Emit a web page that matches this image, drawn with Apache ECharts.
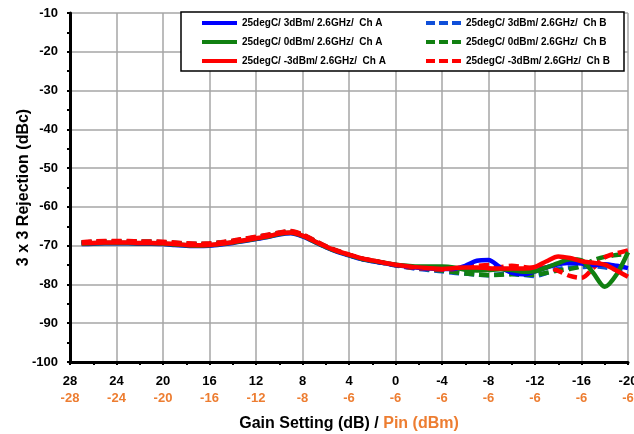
<!DOCTYPE html>
<html><head><meta charset="utf-8">
<script src="https://cdn.jsdelivr.net/npm/echarts@6/dist/echarts.min.js"></script>
<style>html,body{margin:0;padding:0;background:#fff}#c{width:634px;height:434px}</style>
</head><body><div id="c"></div>
<script>
// Gain setting (dB), x values of all series
const gain = [27,26,25,24,23,22,21,20,19,18,17,16,15,14,13,12,11,10,9,8,7,6,5,4,3,2,1,0,-1,-2,-3,-4,-5,-6,-7,-8,-9,-10,-11,-12,-13,-14,-15,-16,-17,-18,-19,-20];
// Tick labels
const gainTicks = [28,24,20,16,12,8,4,0,-4,-8,-12,-16,-20];
const pinTicks = [-28,-24,-20,-16,-12,-8,-6,-6,-6,-6,-6,-6,-6];
const yTicks = [-10,-20,-30,-40,-50,-60,-70,-80,-90,-100];
// Series names
const names = [
  '25degC/ 3dBm/ 2.6GHz/  Ch A','25degC/ 0dBm/ 2.6GHz/  Ch A','25degC/ -3dBm/ 2.6GHz/  Ch A',
  '25degC/ 3dBm/ 2.6GHz/  Ch B','25degC/ 0dBm/ 2.6GHz/  Ch B','25degC/ -3dBm/ 2.6GHz/  Ch B'
];
// 3x3 rejection (dBc)
const blueA = [-69.6,-69.5,-69.4,-69.4,-69.4,-69.5,-69.5,-69.6,-69.8,-70.0,-70.1,-70.0,-69.7,-69.3,-68.8,-68.3,-67.8,-67.1,-66.8,-67.6,-69.0,-70.4,-71.6,-72.5,-73.4,-74.0,-74.5,-75.0,-75.4,-75.7,-75.9,-76.0,-76.0,-75.2,-73.9,-73.7,-75.6,-77.0,-77.4,-76.6,-75.6,-74.8,-74.4,-74.6,-75.0,-74.8,-75.2,-75.8];
const greenA = [-69.5,-69.4,-69.3,-69.3,-69.3,-69.4,-69.4,-69.5,-69.7,-69.9,-70.0,-69.9,-69.6,-69.2,-68.7,-68.2,-67.7,-67.0,-66.7,-67.5,-68.9,-70.3,-71.5,-72.4,-73.3,-73.9,-74.4,-74.9,-75.2,-75.4,-75.4,-75.4,-75.6,-76.2,-76.4,-76.3,-76.1,-76.3,-76.7,-76.6,-75.6,-74.5,-73.5,-73.8,-77.0,-80.6,-77.5,-71.7];
const redA = [-69.4,-69.3,-69.2,-69.2,-69.2,-69.3,-69.3,-69.4,-69.6,-69.8,-69.9,-69.8,-69.5,-69.1,-68.6,-68.1,-67.6,-66.9,-66.6,-67.4,-68.8,-70.2,-71.4,-72.3,-73.2,-73.8,-74.4,-74.9,-75.3,-75.6,-75.8,-76.0,-75.8,-75.6,-75.6,-75.8,-75.9,-75.9,-75.9,-75.5,-74.0,-72.8,-73.2,-74.0,-74.4,-74.9,-76.4,-78.0];
const blueB = [-69.2,-69.0,-68.9,-68.9,-68.9,-69.0,-69.0,-69.1,-69.3,-69.5,-69.6,-69.5,-69.2,-68.8,-68.3,-67.8,-67.3,-66.7,-66.4,-67.2,-68.7,-70.2,-71.4,-72.4,-73.3,-73.9,-74.5,-75.1,-75.6,-76.0,-76.3,-76.6,-77.0,-77.2,-77.5,-77.6,-77.4,-77.2,-77.5,-77.8,-77.0,-76.0,-75.6,-75.5,-75.3,-75.6,-76.2,-76.8];
const greenB = [-69.2,-69.0,-68.9,-68.9,-68.9,-69.0,-69.0,-69.1,-69.3,-69.5,-69.6,-69.5,-69.2,-68.8,-68.3,-67.8,-67.3,-66.7,-66.4,-67.2,-68.7,-70.2,-71.4,-72.4,-73.3,-73.9,-74.5,-75.0,-75.5,-75.8,-76.1,-76.4,-76.8,-77.2,-77.4,-77.6,-77.5,-77.4,-77.5,-77.5,-77.0,-76.4,-76.0,-75.3,-73.8,-72.9,-72.4,-72.1];
const redB = [-69.1,-68.9,-68.8,-68.8,-68.8,-68.9,-68.9,-69.0,-69.2,-69.4,-69.5,-69.4,-69.1,-68.7,-68.2,-67.7,-67.2,-66.6,-66.2,-67.1,-68.6,-70.1,-71.3,-72.3,-73.2,-73.8,-74.4,-75.0,-75.5,-75.8,-76.0,-76.2,-76.0,-75.5,-75.2,-75.0,-75.5,-75.2,-75.5,-75.8,-75.6,-76.5,-77.8,-78.3,-75.8,-73.0,-72.0,-71.2];

const orange = '#ED7D31';
const font = 'Liberation Sans, Arial, sans-serif';
const dash = [10,5];
const pairs = arr => gain.map((g,i)=>[g,arr[i]]);
function mk(name, arr, color, dashed){
  return {name, type:'line', data:pairs(arr), smooth:0.3, showSymbol:false, symbol:'none',
    lineStyle:{color, width:4.5, type: dashed?dash:'solid'}, itemStyle:{color}, z: dashed?2:3};
}
const chart = echarts.init(document.getElementById('c'), null, {renderer:'canvas'});
const legendText = {fontFamily:font, fontWeight:'bold', fontSize:10, color:'#000'};
chart.setOption({
  animation:false,
  grid:{left:70, right:6, top:13, bottom:72, containLabel:false, outerBoundsMode:'none'},
  graphic:[{type:'rect', shape:{x:181, y:12, width:443, height:59}, style:{fill:'#fff', stroke:'#000', lineWidth:1.5}, z:5}],
  legend:[
    {data:[names[0],names[1],names[2]], orient:'vertical', left:197, top:13, itemWidth:35, itemHeight:4, itemGap:9, textStyle:legendText, z:10, icon:'rect'},
    {data:[names[3],names[4],names[5]], orient:'vertical', left:419, top:13, itemWidth:35, itemHeight:4, itemGap:9, textStyle:legendText, z:10,
      lineStyle:{width:4, type:[9,4]}}
  ],
  xAxis:{type:'value', inverse:true, min:-20, max:28, interval:4,
    axisLine:{show:true, onZero:false, lineStyle:{color:'#000', width:3}},
    axisTick:{show:true, length:3, lineStyle:{color:'#000', width:2}},
    minorTick:{show:true, splitNumber:2, length:3, lineStyle:{color:'#000', width:2}},
    splitLine:{show:true, lineStyle:{color:'#a6a6a6', width:1.5}},
    axisLabel:{margin:11, formatter:function(v){const i=gainTicks.indexOf(v); return '{a|'+v+'}\n{b|'+(i>=0?pinTicks[i]:'')+'}';},
      rich:{a:{fontFamily:font, fontWeight:'bold', fontSize:13, color:'#000', lineHeight:17},
            b:{fontFamily:font, fontWeight:'bold', fontSize:13, color:orange, lineHeight:17}}},
    name:'{a|Gain Setting (dB) / }{b|Pin (dBm)}', nameLocation:'middle', nameGap:54, nameMoveOverlap:false,
    nameTextStyle:{rich:{a:{fontFamily:font, fontWeight:'bold', fontSize:16, color:'#000'}, b:{fontFamily:font, fontWeight:'bold', fontSize:16, color:orange}}}
  },
  yAxis:{type:'value', min:-100, max:-10, interval:10,
    axisLine:{show:true, onZero:false, lineStyle:{color:'#000', width:3}},
    axisTick:{show:true, length:3, lineStyle:{color:'#000', width:2}},
    minorTick:{show:true, splitNumber:2, length:3, lineStyle:{color:'#000', width:2}},
    splitLine:{show:true, lineStyle:{color:'#a6a6a6', width:1.5}},
    axisLabel:{margin:12, fontFamily:font, fontWeight:'bold', fontSize:13, color:'#000'},
    name:'3 x 3 Rejection (dBc)', nameLocation:'middle', nameGap:38, nameMoveOverlap:false,
    nameTextStyle:{fontFamily:font, fontWeight:'bold', fontSize:16, color:'#000'}
  },
  series:[
    mk(names[3], blueB, '#0F4FD9', true),
    mk(names[4], greenB, '#118011', true),
    mk(names[5], redB, '#FF0000', true),
    mk(names[0], blueA, '#0000FF', false),
    mk(names[1], greenA, '#118011', false),
    mk(names[2], redA, '#FF0000', false)
  ]
});
</script></body></html>
